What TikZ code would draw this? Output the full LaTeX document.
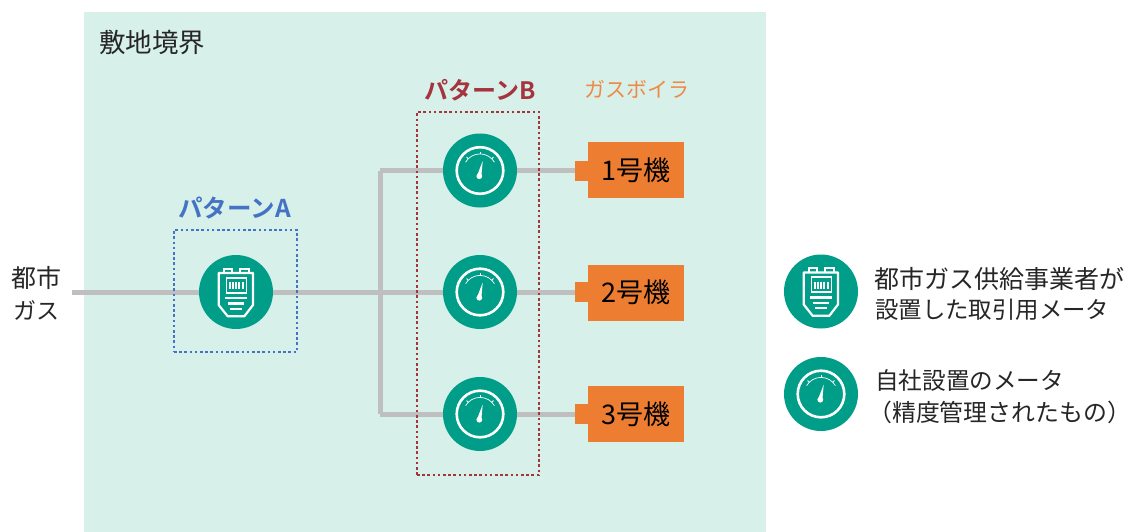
\documentclass[tikz,border=0pt]{standalone}
\usepackage{fontspec}
\setmainfont{Noto Sans CJK JP}[BoldFont={Noto Sans CJK JP Bold}]
\definecolor{sitebg}{HTML}{D7F0E9}
\definecolor{teal}{HTML}{009E88}
\definecolor{pipe}{HTML}{BFBFBF}
\definecolor{boiler}{HTML}{ED7D31}
\definecolor{pa}{HTML}{4472C4}
\definecolor{pb}{HTML}{A5343F}
\definecolor{ink}{HTML}{262626}
\newcommand{\fs}[1]{\fontsize{#1}{#1}\selectfont}
\tikzset{
  disc/.style={circle,fill=teal,draw=none,minimum size=74pt,inner sep=0pt},
  pipeline/.style={draw=pipe,line width=5pt},
  label/.style={inner sep=0pt,font=\fs{25},text=ink},
  lefttext/.style={label,anchor=west},
  pattern/.style={inner sep=0pt,font=\fs{24.5}\bfseries},
  unit/.style={fill=boiler,draw=none,minimum width=96pt,minimum height=56pt,inner sep=0pt,text=black,font=\fs{27}},
  stub/.style={fill=boiler,draw=none,minimum width=14pt,minimum height=20pt,inner sep=0pt},
  dotbox/.style={draw=#1,line width=2.8pt,dash pattern=on 2.6pt off 2.6pt,fill=none,inner sep=0pt},
  metericon/.pic={
    \draw[white,line width=2.2pt,line join=round]
      (-17.3,-19)--(17,-19)--(17,13)--(8.3,24.3)--(-8.3,24.3)--(-17.3,13)--cycle;
    \draw[white,line width=1.8pt] (-12.3,-19)--(-12.3,-23.3)--(-4,-23.3)--(-4,-19);
    \draw[white,line width=1.8pt] (4.3,-19)--(4.3,-23.3)--(12.7,-23.3)--(12.7,-19);
    \draw[white,line width=1.6pt] (-9.7,-14.3) rectangle (10.3,0.7);
    \foreach \bx in {-6.5,-3.2,0,3.3,6.6}{\draw[white,line width=2pt] (\bx,-10)--(\bx,-3);}
    \draw[white,line width=2.2pt] (-10.7,6)--(11,6);
    \draw[white,line width=2.2pt] (-8.3,11.5)--(8.3,11.5);
    \draw[white,line width=2.2pt] (-5.7,16.7)--(5.5,16.7);
  },
  gaugeicon/.pic={
    \draw[white,line width=2.6pt] (0,0) circle (23.3);
    \draw[white,line width=.7pt] (-14.4,-8.3) .. controls (-11.5,-13.4) and (-6,-16.6) .. (0,-16.6)
       .. controls (6,-16.6) and (11.5,-13.4) .. (14.4,-8.3);
    \draw[white,line width=1pt] (0,-16.6)--(0,-19);
    \draw[white,line width=1pt] (-11.7,-11.7)--(-13.4,-13.4);
    \draw[white,line width=1pt] (11.7,-11.7)--(13.4,-13.4);
    \fill[white] (-0.7,5.7) circle (2.9);
    \fill[white] (-2.8,4.8)--(2.7,-9.5)--(1.3,6.2)--cycle;
  },
}
\begin{document}
\begin{tikzpicture}[x=1pt,y=-1pt]
\useasboundingbox (0,0) rectangle (1132,532);
\fill[white] (0,0) rectangle (1132,532);
\fill[sitebg] (84,12) rectangle (766,532);

\node[lefttext,font=\fs{26.5}] (site) at (99,42) {敷地境界};
\node[label,anchor=center] (src1) at (36,278) {都市};
\node[label,anchor=center,font=\fs{23}] (src2) at (36,310) {ガス};
\coordinate (srcend) at (72,292);
\coordinate (junction) at (380,292);
\coordinate (jtop) at (380,170.5);
\coordinate (jbot) at (380,414);

\node[disc] (ma) at (236,292) {};
\node[disc] (g1) at (480,170.5) {};
\node[disc] (g2) at (480,292) {};
\node[disc] (g3) at (480,414) {};
\pic at (ma.center) {metericon};
\pic at (g1.center) {gaugeicon};
\pic at (g2.center) {gaugeicon};
\pic at (g3.center) {gaugeicon};

\node[unit] (b1) at (636,170) {1号機};
\node[unit] (b2) at (636,292.5) {2号機};
\node[unit] (b3) at (636,414) {3号機};
\node[stub] (s1) at (582,170.5) {};
\node[stub] (s2) at (582,292) {};
\node[stub] (s3) at (582,414) {};

\draw[pipeline] (srcend) -- (ma);
\draw[pipeline] (ma) -- (g2);
\draw[pipeline] (jtop) -- (jbot);
\draw[pipeline] (jtop) -- (g1);
\draw[pipeline] (jbot) -- (g3);
\draw[pipeline] (g1) -- (s1);
\draw[pipeline] (g2) -- (s2);
\draw[pipeline] (g3) -- (s3);

\node[dotbox=pa,minimum width=123pt,minimum height=122pt] (boxa) at (235.5,291) {};
\node[dotbox=pb,minimum width=122pt,minimum height=363pt] (boxb) at (478,293.5) {};
\node[pattern,text=pa] (la) at (234.5,208) {パターンA};
\node[pattern,text=pb,font=\fs{24}\bfseries] (lb) at (480,90) {パターンB};
\node[label,text=boiler!90!white,font=\fs{21}] (lg) at (637,89) {ガスボイラ};

\node[disc] (k1) at (821,291.5) {};
\node[disc] (k2) at (821,394) {};
\pic at (k1.center) {metericon};
\pic at (k2.center) {gaugeicon};
\node[lefttext] (t1) at (874,279) {都市ガス供給事業者が};
\node[lefttext,font=\fs{23.4}] (t2) at (875,310) {設置した取引用メータ};
\node[lefttext,font=\fs{23.6}] (t3) at (875,381) {自社設置のメータ};
\node[lefttext,font=\fs{23.9}] (t4) at (868,412) {（精度管理されたもの）};
\end{tikzpicture}
\end{document}
